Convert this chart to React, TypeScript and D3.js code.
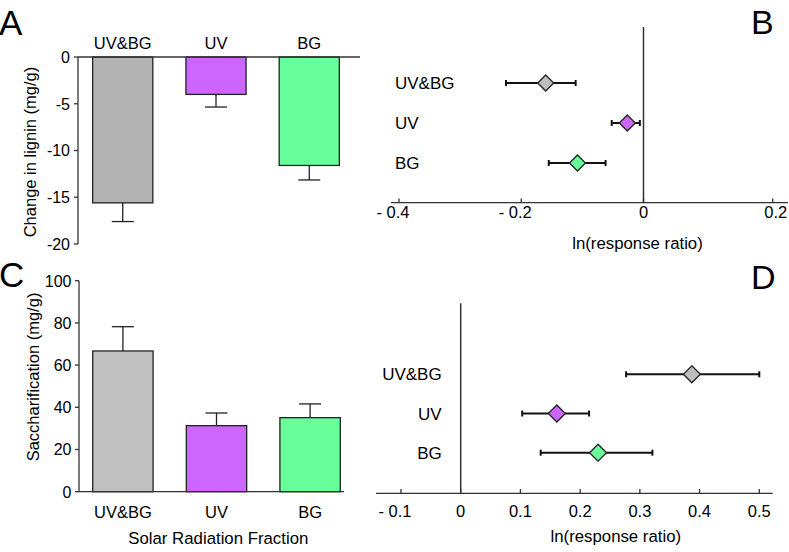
import React from "react";
import * as d3 from "d3";

const categories = ["UV&BG", "UV", "BG"];
const barColors = ["#b3b3b3", "#cc66ff", "#66ff99"];
const barColorsC = ["#c0c0c0", "#cc66ff", "#66ff99"];
const diamondColors = ["#bdbdbd", "#cc66ff", "#66ff99"];

// Panel A: change in lignin (mg/g), mean and error extent
const ligninMean = [-15.6, -4.0, -11.6];
const ligninErr = [-17.6, -5.35, -13.15];
const ligninTicks = [0, -5, -10, -15, -20];

// Panel B: ln(response ratio) for lignin
const lrrB = [-0.16, -0.0265, -0.108];
const lrrBLow = [-0.225, -0.052, -0.155];
const lrrBHigh = [-0.111, -0.006, -0.062];
const ticksB = [-0.4, -0.2, 0, 0.2];
const tickLabelsB = ["- 0.4", "- 0.2", "0", "0.2"];

// Panel C: saccharification (mg/g)
const sacchMean = [66.7, 31.3, 35.1];
const sacchErr = [78.2, 37.3, 41.6];
const sacchTicks = [0, 20, 40, 60, 80, 100];

// Panel D: ln(response ratio) for saccharification
const lrrD = [0.387, 0.161, 0.23];
const lrrDLow = [0.277, 0.103, 0.134];
const lrrDHigh = [0.5, 0.215, 0.321];
const ticksD = [-0.1, 0, 0.1, 0.2, 0.3, 0.4, 0.5];
const tickLabelsD = ["- 0.1", "0", "0.1", "0.2", "0.3", "0.4", "0.5"];

const FONT = "'Liberation Sans', Arial, Helvetica, sans-serif";
const AX = "#333";

export default function App() {
  // ---------- Panel A ----------
  const xA = d3.scaleBand<string>().domain(categories).range([74, 358]).paddingInner(0.355).paddingOuter(0.2);
  const yA = d3.scaleLinear().domain([0, -20]).range([57, 244]);

  // ---------- Panel B ----------
  const xB = d3.scaleLinear().domain([-0.4, 0, 0.2]).range([399, 643.5, 772.7]);
  const yB = d3.scalePoint<string>().domain(categories).range([83, 163]);

  // ---------- Panel C ----------
  const xC = d3.scaleBand<string>().domain(categories).range([74, 359]).paddingInner(0.355).paddingOuter(0.2);
  const yC = d3.scaleLinear().domain([0, 100]).range([491.7, 280.7]);

  // ---------- Panel D ----------
  const xD = d3.scaleLinear().domain([0, 0.5]).range([460.7, 759.3]);
  const yD = d3.scalePoint<string>().domain(categories).range([374.3, 452.7]);

  const diamond = (cx: number, cy: number, r: number) =>
    `M${cx},${cy - r}L${cx + r},${cy}L${cx},${cy + r}L${cx - r},${cy}Z`;

  const forest = (
    xs: d3.ScaleLinear<number, number>,
    ys: d3.ScalePoint<string>,
    mean: number[],
    lo: number[],
    hi: number[],
    r: number
  ) =>
    categories.map((c, i) => {
      const y = ys(c)!;
      const x0 = xs(lo[i]);
      const x1 = xs(hi[i]);
      return (
        <g key={c}>
          <line x1={x0} x2={x1} y1={y} y2={y} stroke="#111" strokeWidth={2} />
          <line x1={x0} x2={x0} y1={y - 3} y2={y + 3} stroke="#111" strokeWidth={2} />
          <line x1={x1} x2={x1} y1={y - 3} y2={y + 3} stroke="#111" strokeWidth={2} />
          <path d={diamond(xs(mean[i]), y, r)} fill={diamondColors[i]} stroke="#222" strokeWidth={1.3} />
        </g>
      );
    });

  return (
    <svg
      width={789}
      height={552}
      style={{ position: "absolute", left: 0, top: 0, background: "#fff" }}
      fontFamily={FONT}
    >
      <rect x={0} y={0} width={789} height={552} fill="#fff" />

      {/* Panel letters */}
      <text x={-1} y={35} fontSize={35}>A</text>
      <text x={751} y={34} fontSize={34}>B</text>
      <text x={-1} y={287} fontSize={35}>C</text>
      <text x={751} y={289} fontSize={34}>D</text>

      {/* ===== Panel A ===== */}
      <g>
        {categories.map((c, i) => {
          const x = xA(c)!;
          const w = xA.bandwidth();
          const cx = x + w / 2;
          return (
            <g key={c}>
              <line x1={cx} x2={cx} y1={yA(ligninMean[i])} y2={yA(ligninErr[i])} stroke="#222" strokeWidth={1.3} />
              <line x1={cx - 11} x2={cx + 11} y1={yA(ligninErr[i])} y2={yA(ligninErr[i])} stroke="#222" strokeWidth={1.3} />
              <rect x={x} y={yA(0)} width={w} height={yA(ligninMean[i]) - yA(0)} fill={barColors[i]} stroke="#222" strokeWidth={1.3} />
              <text x={cx} y={49} fontSize={16.5} textAnchor="middle">{c}</text>
            </g>
          );
        })}
        <line x1={78} x2={360} y1={yA(0)} y2={yA(0)} stroke={AX} strokeWidth={1.3} />
        <line x1={78} x2={78} y1={yA(0)} y2={yA(-20)} stroke={AX} strokeWidth={1.3} />
        {ligninTicks.map((t) => (
          <g key={t}>
            <line x1={74} x2={78} y1={yA(t)} y2={yA(t)} stroke={AX} strokeWidth={1.3} />
            <text x={70} y={yA(t) + 5.8} fontSize={16} textAnchor="end">{t}</text>
          </g>
        ))}
        <text transform={`translate(36,152) rotate(-90)`} fontSize={16.5} textAnchor="middle">
          Change in lignin (mg/g)
        </text>
      </g>

      {/* ===== Panel B ===== */}
      <g>
        <line x1={391} x2={788} y1={202.7} y2={202.7} stroke={AX} strokeWidth={1.3} />
        <line x1={xB(0)} x2={xB(0)} y1={27} y2={202.7} stroke={AX} strokeWidth={1.5} />
        {ticksB.map((t, i) => (
          <g key={t}>
            <line x1={xB(t)} x2={xB(t)} y1={198.5} y2={202.7} stroke={AX} strokeWidth={1.3} />
            <text x={xB(t) + (t < 0 ? -6 : t > 0 ? 3 : 0)} y={217.5} fontSize={16.5} textAnchor="middle">
              {tickLabelsB[i]}
            </text>
          </g>
        ))}
        {categories.map((c) => (
          <text key={c} x={395} y={yB(c)! + 5.5} fontSize={17}>{c}</text>
        ))}
        {forest(xB, yB, lrrB, lrrBLow, lrrBHigh, 8)}
        <text x={637.5} y={249} fontSize={16.8} textAnchor="middle">ln(response ratio)</text>
      </g>

      {/* ===== Panel C ===== */}
      <g>
        {categories.map((c, i) => {
          const x = xC(c)!;
          const w = xC.bandwidth();
          const cx = x + w / 2;
          return (
            <g key={c}>
              <line x1={cx} x2={cx} y1={yC(sacchMean[i])} y2={yC(sacchErr[i])} stroke="#222" strokeWidth={1.3} />
              <line x1={cx - 11} x2={cx + 11} y1={yC(sacchErr[i])} y2={yC(sacchErr[i])} stroke="#222" strokeWidth={1.3} />
              <rect x={x} y={yC(sacchMean[i])} width={w} height={yC(0) - yC(sacchMean[i])} fill={barColorsC[i]} stroke="#222" strokeWidth={1.3} />
              <text x={cx} y={518} fontSize={16.5} textAnchor="middle">{c}</text>
            </g>
          );
        })}
        <line x1={79} x2={344} y1={yC(0)} y2={yC(0)} stroke={AX} strokeWidth={1.3} />
        <line x1={79} x2={79} y1={yC(0)} y2={yC(100)} stroke={AX} strokeWidth={1.3} />
        {sacchTicks.map((t) => (
          <g key={t}>
            <line x1={75} x2={79} y1={yC(t)} y2={yC(t)} stroke={AX} strokeWidth={1.3} />
            <text x={71.5} y={yC(t) + 5.8} fontSize={16} textAnchor="end">{t}</text>
          </g>
        ))}
        <text transform={`translate(39,377) rotate(-90)`} fontSize={16.5} textAnchor="middle">
          Saccharification (mg/g)
        </text>
        <text x={218.3} y={544} fontSize={16.8} textAnchor="middle">Solar Radiation Fraction</text>
      </g>

      {/* ===== Panel D ===== */}
      <g>
        <line x1={376} x2={772.7} y1={493.3} y2={493.3} stroke={AX} strokeWidth={1.3} />
        <line x1={xD(0)} x2={xD(0)} y1={303.3} y2={493.3} stroke={AX} strokeWidth={1.5} />
        {ticksD.map((t, i) => (
          <g key={t}>
            <line x1={xD(t)} x2={xD(t)} y1={489} y2={493.3} stroke={AX} strokeWidth={1.3} />
            <text x={xD(t) + (t < 0 ? -6 : 0)} y={517} fontSize={16.5} textAnchor="middle">
              {tickLabelsD[i]}
            </text>
          </g>
        ))}
        {categories.map((c) => (
          <text key={c} x={441.7} y={yD(c)! + 6} fontSize={17} textAnchor="end">{c}</text>
        ))}
        {forest(xD, yD, lrrD, lrrDLow, lrrDHigh, 8.5)}
        <text x={615.8} y={542} fontSize={16.8} textAnchor="middle">ln(response ratio)</text>
      </g>
    </svg>
  );
}
